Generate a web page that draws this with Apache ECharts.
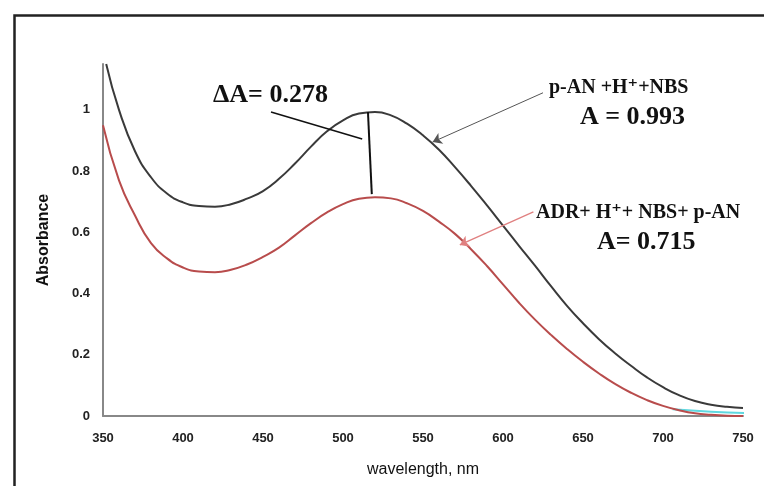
<!DOCTYPE html>
<html>
<head>
<meta charset="utf-8">
<script src="https://cdn.jsdelivr.net/npm/echarts@6/dist/echarts.min.js"></script>
<style>
  html, body { margin: 0; padding: 0; background: #fff; }
  #main { width: 764px; height: 486px; }
</style>
</head>
<body>
<div id="main"></div>
<script>
// wavelengths (nm) and absorbance
const wavelengths = [352, 360, 370, 380, 390, 400, 410, 420, 430, 440, 450, 460, 470, 480, 490, 500, 510, 520, 530, 540, 550, 560, 570, 580, 590, 600, 610, 620, 630, 640, 650, 660, 670, 680, 690, 700, 710, 720, 730, 740, 750];
const blankAbs = [1.15, 1.0, 0.865, 0.78, 0.727, 0.698, 0.686, 0.684, 0.692, 0.71, 0.735, 0.775, 0.825, 0.88, 0.93, 0.966, 0.988, 0.993, 0.982, 0.955, 0.917, 0.87, 0.813, 0.752, 0.688, 0.622, 0.556, 0.491, 0.424, 0.36, 0.303, 0.251, 0.205, 0.164, 0.126, 0.094, 0.068, 0.049, 0.037, 0.03, 0.026];
const sampleWl = [350, 360, 370, 380, 390, 400, 410, 420, 430, 440, 450, 460, 470, 480, 490, 500, 510, 520, 530, 540, 550, 560, 570, 580, 590, 600, 610, 620, 630, 640, 650, 660, 670, 680, 690, 700, 710, 720, 730, 740, 750];
const sampleAbs = [0.95, 0.77, 0.655, 0.565, 0.515, 0.485, 0.472, 0.47, 0.478, 0.495, 0.52, 0.55, 0.59, 0.63, 0.665, 0.692, 0.71, 0.715, 0.711, 0.695, 0.67, 0.635, 0.595, 0.545, 0.49, 0.43, 0.37, 0.315, 0.265, 0.219, 0.177, 0.139, 0.105, 0.076, 0.052, 0.033, 0.019, 0.009, 0.004, 0.001, 0];
const baselineWl = [706, 730, 752];
const baselineAbs = [0.022, 0.014, 0.01];
const xTicks = [350, 400, 450, 500, 550, 600, 650, 700, 750];
const yTicks = [0, 0.2, 0.4, 0.6, 0.8, 1];

// annotation lines (data coordinates)
const deltaLine = [[515.6, 0.993], [518, 0.725]];
const deltaLeader = [[455, 0.993], [512, 0.905]];
const blankArrow = [[625, 1.056], [556, 0.895]];
const sampleArrow = [[619, 0.667], [573, 0.559]];

const zip = (xs, ys) => xs.map((x, i) => [x, ys[i]]);

const chart = echarts.init(document.getElementById('main'));

const serif = '"Liberation Serif", "DejaVu Serif", serif';
const narrow = '"Liberation Sans Narrow", "Liberation Sans", Arial, sans-serif';

function arrowSeries(pts, lineColor, headColor, w) {
  return {
    type: 'line', data: [], silent: true, symbol: 'none',
    markLine: {
      silent: true, animation: false,
      symbol: ['none', 'arrow'], symbolSize: 9,
      label: { show: false },
      lineStyle: { color: lineColor, width: w, type: 'solid' },
      emphasis: { disabled: true },
      data: [[
        { coord: pts[0], itemStyle: { color: headColor } },
        { coord: pts[1], itemStyle: { color: headColor } }
      ]]
    }
  };
}

const option = {
  animation: false,
  grid: { left: 103, right: 21, top: 64, bottom: 70 },
  xAxis: {
    type: 'value',
    min: 350, max: 750, interval: 50,
    name: 'wavelength, nm',
    nameLocation: 'middle',
    nameGap: 46,
    nameTextStyle: { fontFamily: narrow, fontSize: 16, color: '#111' },
    axisLine: { show: true, lineStyle: { color: '#888', width: 2 } },
    axisTick: { show: false },
    splitLine: { show: false },
    axisLabel: { margin: 16, fontFamily: narrow, fontSize: 13, fontWeight: 'bold', color: '#222',
      formatter: v => xTicks.includes(v) ? String(v) : '' }
  },
  yAxis: {
    type: 'value',
    min: 0, max: 1.15, interval: 0.2,
    name: 'Absorbance',
    nameLocation: 'middle',
    nameGap: 51,
    nameTextStyle: { fontFamily: narrow, fontSize: 16, fontWeight: 'bold', color: '#111' },
    axisLine: { show: true, lineStyle: { color: '#888', width: 2 } },
    axisTick: { show: false },
    splitLine: { show: false },
    axisLabel: { margin: 13, showMaxLabel: false, fontFamily: narrow, fontSize: 13, fontWeight: 'bold', color: '#222',
      formatter: v => yTicks.some(t => Math.abs(t - v) < 1e-6) ? String(+v.toFixed(1)) : '' }
  },
  series: [
    {
      type: 'line', data: zip(wavelengths, blankAbs), smooth: 0.5, symbol: 'none',
      lineStyle: { color: '#3a3a3a', width: 2 }, z: 3
    },
    {
      type: 'line', data: zip(sampleWl, sampleAbs), smooth: 0.5, symbol: 'none',
      lineStyle: { color: '#b84c4c', width: 2 }, z: 3
    },
    {
      type: 'line', data: zip(baselineWl, baselineAbs), smooth: true, symbol: 'none',
      lineStyle: { color: '#5fd8e0', width: 2 }, z: 2
    },
    {
      type: 'line', data: deltaLine, symbol: 'none',
      lineStyle: { color: '#111', width: 2 }, z: 4
    },
    {
      type: 'line', data: deltaLeader, symbol: 'none',
      lineStyle: { color: '#111', width: 1.5 }, z: 4
    },
    arrowSeries(blankArrow, '#555', '#222', 1),
    arrowSeries(sampleArrow, '#e08080', '#d04848', 1.3)
  ],
  graphic: [
    { type: 'rect', left: 12, top: 13, shape: { width: 800, height: 520 },
      style: { fill: 'none', stroke: '#222', lineWidth: 2.5 }, silent: true },
    { type: 'text', x: 213, y: 95,
      style: { text: 'ΔA= 0.278', font: 'bold 26px ' + serif, fill: '#111', verticalAlign: 'middle' } },
    { type: 'text', x: 549, y: 88,
      style: { text: 'p-AN +H⁺+NBS', font: 'bold 20px ' + serif, fill: '#111', verticalAlign: 'middle' } },
    { type: 'text', x: 580, y: 117,
      style: { text: 'A = 0.993', font: 'bold 26px ' + serif, fill: '#111', verticalAlign: 'middle' } },
    { type: 'text', x: 536, y: 213,
      style: { text: 'ADR+ H⁺+ NBS+ p-AN', font: 'bold 20px ' + serif, fill: '#111', verticalAlign: 'middle' } },
    { type: 'text', x: 597, y: 242,
      style: { text: 'A= 0.715', font: 'bold 26px ' + serif, fill: '#111', verticalAlign: 'middle' } }
  ]
};

chart.setOption(option);
</script>
</body>
</html>
